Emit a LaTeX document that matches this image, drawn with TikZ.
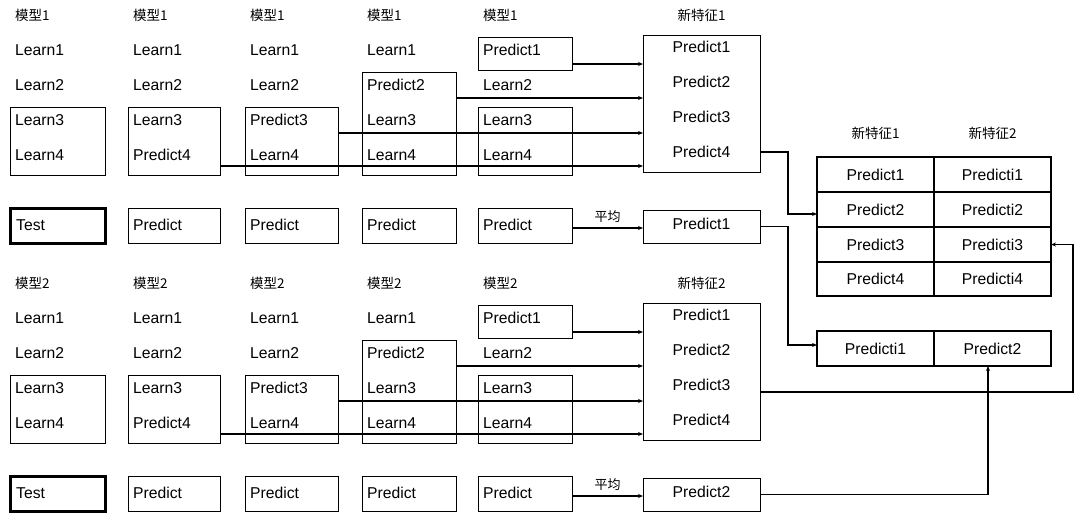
\documentclass[tikz,border=0pt]{standalone}
\usepackage{fontspec}
\setmainfont{Liberation Sans}
\newfontfamily\cjk{Noto Sans CJK SC}
\usetikzlibrary{arrows.meta}
\newcommand{\mkbox}[6]{\node[#6, minimum width={(#4)-(#2)}, minimum height={(#5)-(#3)}] (#1) at ({((#2)+(#4))/2},{((#3)+(#5))/2}) {};}
\newcommand{\mysec}[2]{%
  \foreach \c/\xl in {1/10,2/128,3/245,4/362,5/478}{
    \node[hdr] (h#1\c) at (\xl+5,15) {模型#2};
  }
  \foreach \c/\xl/\ta/\tb/\tc/\td in {1/10/Learn1/Learn2/Learn3/Learn4,2/128/Learn1/Learn2/Learn3/Predict4,3/245/Learn1/Learn2/Predict3/Learn4,4/362/Learn1/Predict2/Learn3/Learn4,5/478/Predict1/Learn2/Learn3/Learn4}{
    \node[txt] (g#1\c1) at (\xl+5,50) {\ta};
    \node[txt] (g#1\c2) at (\xl+5,85) {\tb};
    \node[txt] (g#1\c3) at (\xl+5,120) {\tc};
    \node[txt] (g#1\c4) at (\xl+5,155) {\td};
  }
  \mkbox{c#11}{10}{107}{105}{175}{fbox}
  \mkbox{c#12}{128}{107}{220}{175}{fbox}
  \mkbox{c#13}{245}{107}{338}{175}{fbox}
  \mkbox{c#14}{362}{72}{456}{175}{fbox}
  \mkbox{c#15}{478}{37}{572}{70}{fbox}
  \mkbox{d#15}{478}{107}{572}{175}{fbox}
  \mkbox{nf#1}{643}{35}{760}{172}{nfbox}
  \node[ctxt] (fh#1) at (701.5,15) {\cjk\fontsize{13.5}{16}\selectfont 新特征#2};
  \foreach \r/\yy in {1/47,2/82,3/117,4/152}{
    \node[ctxt] (f#1\r) at (701.5,\yy) {Predict\r};
  }
  % test row
  \mkbox{s#11}{10}{208}{105}{243}{testbox}
  \node[txt] (st#1) at (16,225) {Test};
  \foreach \c/\xl/\xr in {2/128/220,3/245/338,4/362/456,5/478/572}{
    \mkbox{s#1\c}{\xl}{208}{\xr}{243}{fbox}
    \node[txt] (sp#1\c) at (\xl+5,225) {Predict};
  }
  \mkbox{np#1}{643}{210}{760}{243}{fbox}
  \node[ctxt] (npt#1) at (701.5,224) {Predict#2};
  % connectors
  \coordinate (a#11) at (600,64);
  \coordinate (a#12) at (600,98);
  \coordinate (a#13) at (600,133);
  \coordinate (a#14) at (600,166);
  \coordinate (av#1) at (600,228);
  \draw[conn] (c#15.east |- a#11) -- (nf#1.west |- a#11);
  \draw[conn] (c#14.east |- a#12) -- (nf#1.west |- a#12);
  \draw[conn] (c#13.east |- a#13) -- (nf#1.west |- a#13);
  \draw[conn] (c#12.east |- a#14) -- (nf#1.west |- a#14);
  \draw[conn] (s#15.east |- av#1) -- node[avg] (m#1) {平均} (np#1.west |- av#1);
}
\begin{document}
\begin{tikzpicture}[x=1pt,y=-1pt,
  txt/.style={font=\fontsize{15.7}{18}\selectfont, inner sep=0pt, anchor=west},
  ctxt/.style={font=\fontsize{15.7}{18}\selectfont, inner sep=0pt},
  hdr/.style={font=\cjk\fontsize{13.5}{16}\selectfont, inner sep=0pt, anchor=west},
  avg/.style={font=\cjk\fontsize{13}{15}\selectfont, inner sep=0pt, above=5pt},
  fbox/.style={draw, line width=0.7pt, inner sep=0pt, outer sep=0pt},
  nfbox/.style={draw, line width=0.9pt, inner sep=0pt, outer sep=0pt},
  testbox/.style={draw, line width=3pt, inner sep=0pt, outer sep=0pt},
  tcell/.style={draw, line width=1.3pt, inner sep=0pt, outer sep=0pt},
  conn/.style={line width=1.8pt, -{Stealth[length=5pt,width=4pt]}},
]
\useasboundingbox (0,0) rectangle (1080,515);
\mysec{a}{1}
\begin{scope}[yshift=-268pt]
\mysec{b}{2}
\end{scope}
% right table
\node[ctxt] (th1) at (875.5,133) {\cjk\fontsize{13.5}{16}\selectfont 新特征1};
\node[ctxt] (th2) at (992.5,133) {\cjk\fontsize{13.5}{16}\selectfont 新特征2};
\foreach \r/\yt/\yb in {1/157/192,2/192/227,3/227/262,4/262/296}{
  \mkbox{ta\r}{817}{\yt}{934}{\yb}{tcell}
  \node[ctxt] (tat\r) at (ta\r) {Predict\r};
  \mkbox{tb\r}{934}{\yt}{1051}{\yb}{tcell}
  \node[ctxt] (tbt\r) at (tb\r) {Predicti\r};
}
\mkbox{ua}{817}{331}{934}{366}{tcell}
\node[ctxt] (uat) at (ua) {Predicti1};
\mkbox{ub}{934}{331}{1051}{366}{tcell}
\node[ctxt] (ubt) at (ub) {Predict2};
% right connectors
\coordinate (k1) at (0,152);
\coordinate (k2) at (0,392);
\coordinate (k3) at (0,214);
\coordinate (k4) at (0,345);
\coordinate (kx) at (788,0);
\coordinate (ky) at (1073,0);
\coordinate (kz) at (988,0);
\draw[conn] (nfa.east |- k1) -| (kx |- k3) -- (ta2.west |- k3);
\draw[conn] (npa.east) -| (kx |- k4) -- (ua.west |- k4);
\draw[conn] (nfb.east |- k2) -| (ky |- tb3.east) -- (tb3.east);
\draw[conn] (npb.east) -| (kz |- ub.south);
\end{tikzpicture}
\end{document}
